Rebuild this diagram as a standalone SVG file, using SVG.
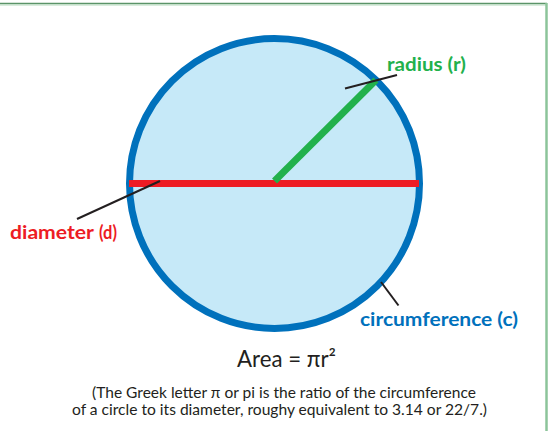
<svg xmlns="http://www.w3.org/2000/svg" width="551" height="431" viewBox="0 0 551 431">
<style>
.lbl{font-family:Lato,"Open Sans","Liberation Sans",sans-serif;font-weight:700;font-size:19.5px}
.txt{font-family:Lato,"Open Sans","Liberation Sans",sans-serif;fill:#231f20}
.lead{stroke:#231f20;stroke-width:2;fill:none}
</style>
<rect width="551" height="431" fill="#ffffff"/>
<g id="frame">
<line x1="0" y1="3.5" x2="547" y2="3.5" stroke="#5b9468" stroke-width="1.5"/>
<line x1="0" y1="5" x2="546" y2="5" stroke="#b3dabb" stroke-width="1"/>
<line x1="546.5" y1="3" x2="546.5" y2="431" stroke="#8cc49a" stroke-width="2.5"/>
</g>
<g id="circle">
<circle cx="274.5" cy="183.5" r="145" fill="#c6e9f8" stroke="#0071bc" stroke-width="7"/>
</g>
<g id="diameter">
<line x1="129" y1="183.5" x2="419" y2="183.5" stroke="#ed1c24" stroke-width="7"/>
</g>
<g id="radius">
<line x1="274.5" y1="181" x2="376" y2="80" stroke="#22b14c" stroke-width="7"/>
</g>
<g id="connectors">
<line class="lead" x1="345" y1="88.5" x2="397" y2="75"/>
<line class="lead" x1="160" y1="181" x2="77" y2="219"/>
<line class="lead" x1="381" y1="282" x2="398.5" y2="305.5"/>
</g>
<g id="label-radius">
<text class="lbl" x="387" y="70.5" fill="#22b14c" textLength="79" lengthAdjust="spacingAndGlyphs">radius (r)</text>
</g>
<g id="label-diameter">
<text class="lbl" x="10" y="239" fill="#ed1c24" textLength="84" lengthAdjust="spacingAndGlyphs">diameter</text>
<text class="lbl" x="99" y="239" fill="#ed1c24" font-weight="400" textLength="18" lengthAdjust="spacingAndGlyphs">(d)</text>
</g>
<g id="label-circumference">
<text class="lbl" x="360" y="326" fill="#0071bc" textLength="158" lengthAdjust="spacingAndGlyphs">circumference (c)</text>
</g>
<g id="area">
<text class="txt" x="237" y="367" font-size="23" textLength="99" lengthAdjust="spacingAndGlyphs">Area = πr²</text>
</g>
<g id="note">
<text class="txt" x="92" y="398" font-size="15" textLength="384" lengthAdjust="spacingAndGlyphs">(The Greek letter π or pi is the ratio of the circumference</text>
<text class="txt" x="72" y="415" font-size="15" textLength="415" lengthAdjust="spacingAndGlyphs">of a circle to its diameter, roughy equivalent to 3.14 or 22/7.)</text>
</g>
</svg>
